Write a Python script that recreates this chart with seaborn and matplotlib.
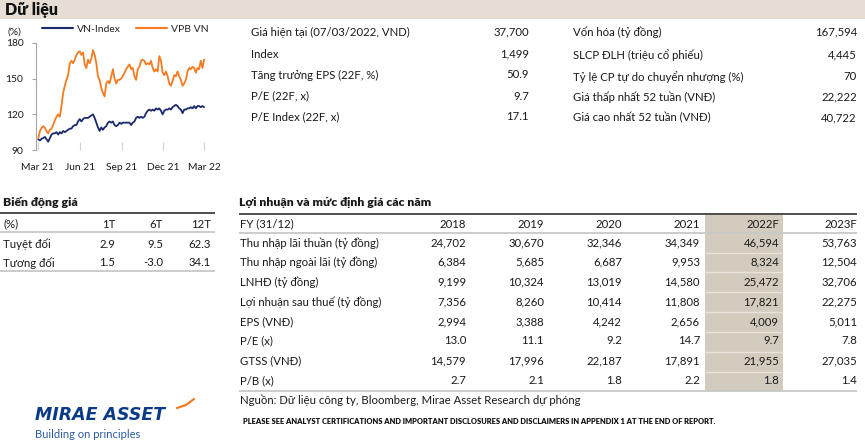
import numpy as np
import pandas as pd
import matplotlib
matplotlib.use("Agg")
import matplotlib.pyplot as plt
from matplotlib.patches import Rectangle
import seaborn as sns

# ---------------- data ----------------
vn_index = [99, 98, 99.5, 100, 101, 99, 97, 100, 103, 104, 104, 105, 103, 105, 104, 106, 105, 106, 107, 108,
            108, 110, 111, 111, 114, 116, 114, 116, 117, 117, 117, 118, 119, 120, 117, 113, 109, 106, 109, 107,
            109, 110, 113, 114, 113, 114, 111, 110, 111, 113, 112, 113, 113, 113, 113, 113, 111, 113, 114, 117,
            118, 117, 118, 117, 118, 121, 123, 124, 123, 124, 123, 125, 124, 125, 123, 120, 123, 124, 124, 125,
            124, 126, 127, 128, 127, 125, 124, 121, 124, 124, 125, 125, 126, 125, 127, 125, 127, 127, 126, 127,
            126]
vpb_vn = [100, 105.8, 108.6, 110, 108.6, 105.8, 104, 107, 108, 111, 115, 118, 120, 118, 127, 138, 144, 149, 153, 163,
          165, 163, 166, 170, 172, 173, 170, 172, 162, 159, 166, 163, 167, 174, 170, 163, 152, 149, 142, 138,
          135, 146, 148, 146, 152, 158, 150, 146, 149, 149, 150, 152, 155, 158, 160, 162, 158, 159, 152, 149,
          158, 160, 165, 166, 165, 162, 163, 162, 165, 159, 156, 158, 156, 169, 165, 155, 153, 156, 152, 146,
          144, 148, 153, 152, 156, 152, 149, 144, 146, 149, 156, 159, 158, 160, 159, 155, 159, 158, 165, 159,
          166]
series_names = ["VN-Index", "VPB VN"]
start_date = "2021-03-08"
end_date = "2022-03-07"
x_tick_dates = ["2021-03-07", "2021-06-07", "2021-09-07", "2021-12-07", "2022-03-07"]
x_tick_labels = ["Mar 21", "Jun 21", "Sep 21", "Dec 21", "Mar 22"]
y_ticks = [90, 120, 150, 180]

info_left_labels = ["Giá hiện tại (07/03/2022, VND)", "Index", "Tăng trưởng EPS (22F, %)",
                    "P/E (22F, x)", "P/E Index (22F, x)"]
info_left_values = ["37,700", "1,499", "50.9", "9.7", "17.1"]
info_right_labels = ["Vốn hóa (tỷ đồng)", "SLCP ĐLH (triệu cổ phiếu)", "Tỷ lệ CP tự do chuyển nhượng (%)",
                     "Giá thấp nhất 52 tuần (VNĐ)", "Giá cao nhất 52 tuần (VNĐ)"]
info_right_values = ["167,594", "4,445", "70", "22,222", "40,722"]

perf_cols = ["1T", "6T", "12T"]
perf_rows = ["Tuyệt đối", "Tương đối"]
perf_abs = ["2.9", "9.5", "62.3"]
perf_rel = ["1.5", "-3.0", "34.1"]

fin_years = ["2018", "2019", "2020", "2021", "2022F", "2023F"]
fin_rows = ["Thu nhập lãi thuần (tỷ đồng)", "Thu nhập ngoài lãi (tỷ đồng)", "LNHĐ (tỷ đồng)",
            "Lợi nhuận sau thuế (tỷ đồng)", "EPS (VNĐ)", "P/E (x)", "GTSS (VNĐ)", "P/B (x)"]
fin_nii = ["24,702", "30,670", "32,346", "34,349", "46,594", "53,763"]
fin_non_ii = ["6,384", "5,685", "6,687", "9,953", "8,324", "12,504"]
fin_toi = ["9,199", "10,324", "13,019", "14,580", "25,472", "32,706"]
fin_npat = ["7,356", "8,260", "10,414", "11,808", "17,821", "22,275"]
fin_eps = ["2,994", "3,388", "4,242", "2,656", "4,009", "5,011"]
fin_pe = ["13.0", "11.1", "9.2", "14.7", "9.7", "7.8"]
fin_bvps = ["14,579", "17,996", "22,187", "17,891", "21,955", "27,035"]
fin_pb = ["2.7", "2.1", "1.8", "2.2", "1.8", "1.4"]

source_text = "Nguồn: Dữ liệu công ty, Bloomberg, Mirae Asset Research dự phóng"
disclaimer = "PLEASE SEE ANALYST CERTIFICATIONS AND IMPORTANT DISCLOSURES AND DISCLAIMERS IN APPENDIX 1 AT THE END OF REPORT."

# ---------------- style ----------------
sns.set_theme(style="white")
plt.rcParams['font.family'] = ['Lato', 'DejaVu Sans']

W, H = 865, 448
TXT = "#1a1a1a"
NAVY = "#1B2A6B"
ORANGE = "#F47B20"

fig = plt.figure(figsize=(W / 100, H / 100), dpi=100)
bg = fig.add_axes([0, 0, 1, 1])
bg.set_xlim(0, W)
bg.set_ylim(H, 0)
bg.axis('off')


def t(x, y, s, ha='left', size=8.2, **kw):
    bg.text(x, y, s, ha=ha, va='center', fontsize=size, color=kw.pop('color', TXT), **kw)


def hline(x0, x1, y, color, lw):
    bg.plot([x0, x1], [y, y], color=color, lw=lw, solid_capstyle='butt')


# header band
bg.add_patch(Rectangle((0, 0), W, 19, color='#E6DED4', lw=0))
t(5, 10, "Dữ liệu", size=11.5, fontweight='heavy', color='#111111')

# key info rows
rows_y_left = [32, 54, 75, 96, 117]
rows_y_right = [32, 55, 77, 97, 118]
for y, lab, val in zip(rows_y_left, info_left_labels, info_left_values):
    t(251, y, lab)
    t(529, y, val, ha='right')
for y, lab, val in zip(rows_y_right, info_right_labels, info_right_values):
    t(573, y, lab)
    t(857, y, val, ha='right')

# price performance table
t(3, 203, "Biến động giá", size=8.8, fontweight='heavy')
hline(0, 215, 213.5, '#4D4D4D', 1.4)
t(3, 224, "(%)")
perf_x = [115, 163, 211]
for x, c in zip(perf_x, perf_cols):
    t(x, 224, c, ha='right')
hline(0, 215, 232.5, '#C8C8C8', 1.3)
for y, lab, vals in zip([244, 263], perf_rows, [perf_abs, perf_rel]):
    t(3, y, lab)
    for x, v in zip(perf_x, vals):
        t(x, y, v, ha='right')
hline(0, 215, 271.5, '#C8C8C8', 1.3)

# earnings & valuation table
bg.add_patch(Rectangle((705, 214), 78, 177, color='#D3CBBE', lw=0))
for y in [253, 272, 292, 312, 332, 352, 372]:
    hline(705, 783, y, '#E8E3DB', 1.0)
t(239, 202, "Lợi nhuận và mức định giá các năm", size=8.8, fontweight='heavy')
hline(239, 857, 214, '#4D4D4D', 1.4)
year_x = [466, 544, 622, 700, 779, 857]
t(240, 224, "FY (31/12)")
for x, yr in zip(year_x, fin_years):
    t(x, 224, yr, ha='right')
hline(239, 857, 233, '#C8C8C8', 1.3)
fin_data = [fin_nii, fin_non_ii, fin_toi, fin_npat, fin_eps, fin_pe, fin_bvps, fin_pb]
fin_y = [243, 262, 282, 302, 322, 341, 361, 381]
for y, lab, vals in zip(fin_y, fin_rows, fin_data):
    t(240, y, lab)
    for x, v in zip(year_x, vals):
        t(x, y, v, ha='right')
hline(239, 857, 391, '#C8C8C8', 1.3)
t(240, 400, source_text)
t(243, 422, disclaimer, size=5.4, fontweight='heavy', color='#111111')

# logo
bg.text(35, 415, "MIRAE ASSET", ha='left', va='center', fontsize=12.5, fontweight='bold',
        fontstyle='italic', color='#0B3A86', family=['DejaVu Sans'])
t(35, 435, "Building on principles", size=8, color='#2B5AA3')
bg.plot([177, 186, 194], [408, 405, 399], color=ORANGE, lw=1.6)

# (%) label
t(8, 32, "(%)", size=7.5)

# ---------------- line chart ----------------
ax = fig.add_axes([36 / W, 1 - 150 / H, 169 / W, 107 / H])
dates = pd.date_range(start_date, end_date, periods=len(vn_index))
df = pd.DataFrame({
    "date": list(dates) * 2,
    "value": vn_index + vpb_vn,
    "series": [series_names[0]] * len(vn_index) + [series_names[1]] * len(vpb_vn),
})
sns.lineplot(data=df, x="date", y="value", hue="series",
             palette={series_names[0]: NAVY, series_names[1]: ORANGE},
             linewidth=1.3, ax=ax)
ax.set_xlim(pd.Timestamp("2021-03-03"), pd.Timestamp("2022-03-09"))
ax.set_ylim(90, 180)
ax.set_yticks(y_ticks)
ax.set_yticklabels([str(v) for v in y_ticks])
ax.set_xticks(pd.to_datetime(x_tick_dates))
ax.set_xticklabels(x_tick_labels)
ax.set_xlabel("")
ax.set_ylabel("")
for s in ['top', 'right', 'bottom']:
    ax.spines[s].set_visible(False)
ax.spines['left'].set_color('#A6A6A6')
ax.spines['left'].set_linewidth(0.8)
ax.tick_params(axis='y', direction='out', length=3, width=0.8, color='#A6A6A6',
               labelsize=7.4, pad=6, labelcolor=TXT, left=True)
ax.tick_params(axis='x', direction='in', length=6, width=0.8, color='#D0D0D0',
               labelsize=7.4, pad=9, labelcolor=TXT, bottom=True)
ax.set_facecolor('white')
handles, labels = ax.get_legend_handles_labels()
for h in handles:
    h.set_linewidth(1.5)
ax.legend(handles, labels, ncol=2, loc='center left', bbox_to_anchor=(42 / W, 1 - 29 / H),
          bbox_transform=fig.transFigure, frameon=False, fontsize=7.5, handlelength=3.0,
          handletextpad=0.4, columnspacing=1.4, borderpad=0, borderaxespad=0)

fig.savefig("out.png", dpi=100)
